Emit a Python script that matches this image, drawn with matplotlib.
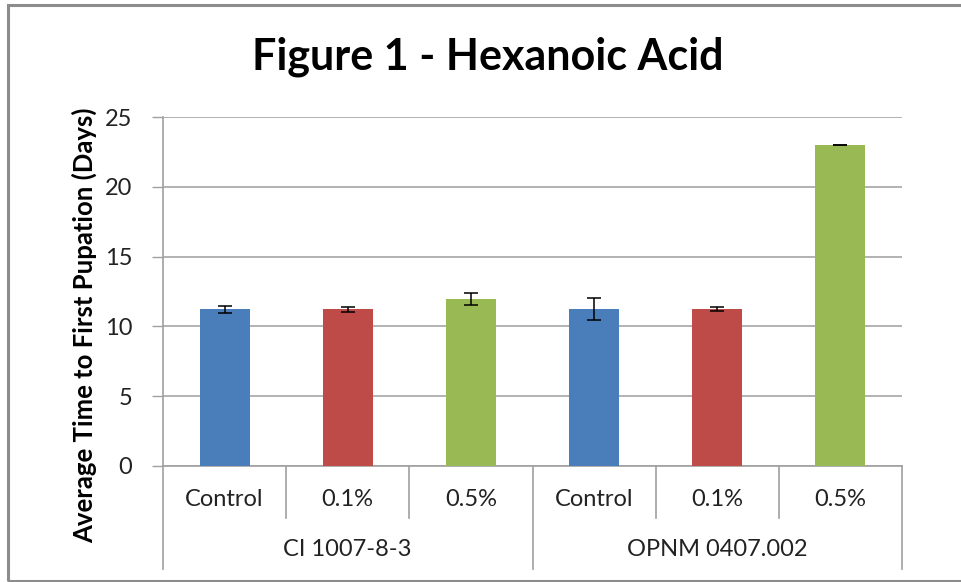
import matplotlib
matplotlib.use("Agg")
import matplotlib.pyplot as plt
from matplotlib.patches import Rectangle
import matplotlib.transforms as mtransforms

plt.rcParams['font.family'] = ['Lato', 'DejaVu Sans']

title = "Figure 1 - Hexanoic Acid"
ylabel = "Average Time to First Pupation (Days)"
treatments = ["Control", "0.1%", "0.5%", "Control", "0.1%", "0.5%"]
groups = ["CI 1007-8-3", "OPNM 0407.002"]
values = [11.22, 11.22, 11.95, 11.22, 11.22, 23.0]
errors = [0.25, 0.2, 0.41, 0.78, 0.14, 0.0]
colors = ["#4A7EBB", "#BE4B48", "#98B954", "#4A7EBB", "#BE4B48", "#98B954"]
yticks = [0, 5, 10, 15, 20, 25]

W, H = 962, 582
fig = plt.figure(figsize=(W / 100, H / 100), dpi=100)

# outer frame
fig.patches.append(Rectangle((8 / W, 1 - 581 / H), (W + 20 - 8) / W, (581 - 5) / H,
                             transform=fig.transFigure, fill=False,
                             edgecolor="#8C8C8C", linewidth=2.2, clip_on=False))

L, R, T, B = 163, 902, 117, 466
ax = fig.add_axes([L / W, 1 - B / H, (R - L) / W, (B - T) / H])

x = list(range(len(values)))
ax.bar(x, values, width=0.405, color=colors, zorder=3)
ax.errorbar(x, values, yerr=errors, fmt="none", ecolor="black",
            elinewidth=1.1, capsize=5, capthick=1.1, zorder=4)

ax.set_xlim(-0.5, len(values) - 0.5)
ax.set_ylim(0, 25)
ax.set_yticks(yticks)
ax.set_yticklabels([str(t) for t in yticks], fontsize=17, color="#222222")
ax.tick_params(axis="y", length=8, width=1, color="#A0A0A0", pad=14)
ax.tick_params(axis="x", length=0, labelbottom=False)
ax.grid(axis="y", color="#A6A6A6", linewidth=1.2, zorder=0)
for s in ["top", "right"]:
    ax.spines[s].set_visible(False)
ax.spines["left"].set_color("#A0A0A0")
ax.spines["bottom"].set_color("#A0A0A0")
ax.spines["left"].set_linewidth(1.2)
ax.spines["bottom"].set_linewidth(1.2)

fig.text(488 / W, 1 - 57 / H, title, fontsize=31, fontweight="bold",
         ha="center", va="center")
ax.set_ylabel(ylabel, fontsize=18.5, fontweight="bold")
ax.yaxis.set_label_coords(-(L - 97) / (R - L), (B - 325) / (B - T))

trans = mtransforms.blended_transform_factory(ax.transData, ax.transAxes)
hpx = B - T
lvl1 = -(518 - B) / hpx
lvl2 = -(569 - B) / hpx
n = len(values)
per = n // len(groups)
for i in range(n + 1):
    xb = i - 0.5
    y1 = lvl2 if i % per == 0 else lvl1
    ax.plot([xb, xb], [0, y1], transform=trans, color="#A0A0A0",
            linewidth=1.2, clip_on=False)
for i, t in enumerate(treatments):
    ax.text(i, -(500 - B) / hpx, t, transform=trans, ha="center", va="center",
            fontsize=17, color="#222222")
for g, name in enumerate(groups):
    ax.text(g * per + (per - 1) / 2, -(550 - B) / hpx, name, transform=trans,
            ha="center", va="center", fontsize=17, color="#222222")

fig.savefig("out.png", dpi=100)
